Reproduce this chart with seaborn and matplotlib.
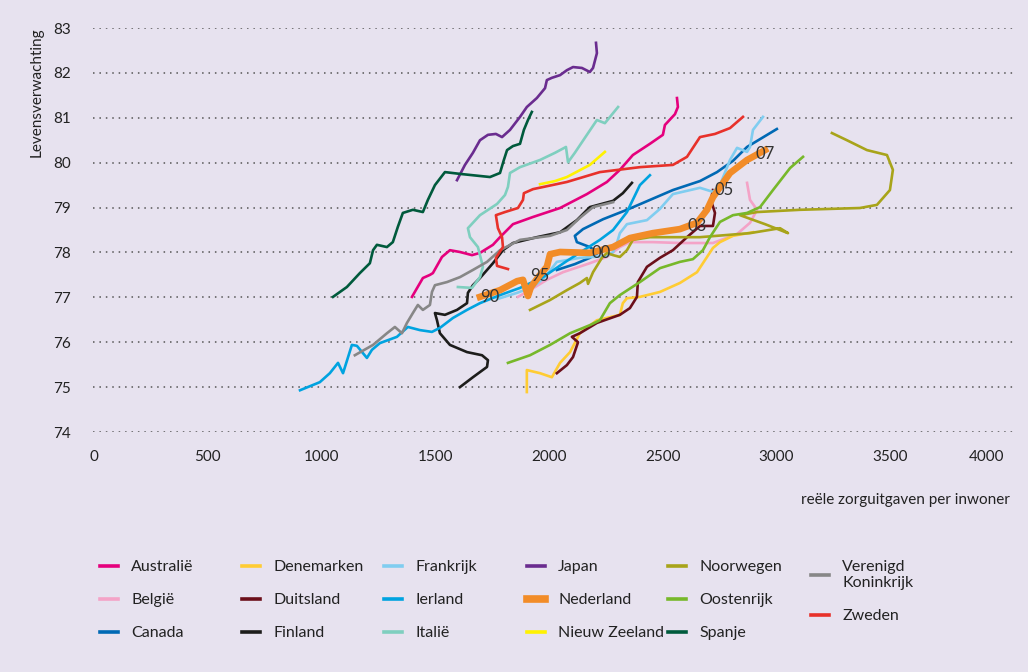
import numpy as np
import pandas as pd
import matplotlib
matplotlib.use("Agg")
import matplotlib.pyplot as plt
from matplotlib.lines import Line2D
import seaborn as sns

# reele zorguitgaven per inwoner (x) tegen levensverwachting (y), 1990-2007
australie_x = [1398, 1446, 1477, 1490, 1530, 1565, 1609, 1662, 1697, 1754, 1785, 1842, 1930, 2049, 2167, 2255, 2312, 2369, 2444, 2501, 2510, 2554, 2567, 2563]
australie_y = [77.01, 77.43, 77.50, 77.54, 77.90, 78.05, 78.01, 77.94, 77.99, 78.17, 78.34, 78.63, 78.79, 78.99, 79.30, 79.57, 79.84, 80.17, 80.42, 80.62, 80.84, 81.08, 81.24, 81.44]

belgie_x = [1864, 1917, 1991, 2062, 2180, 2255, 2312, 2356, 2457, 2576, 2721, 2827, 2884, 2915, 2884, 2871]
belgie_y = [77.01, 77.16, 77.39, 77.56, 77.76, 77.90, 78.12, 78.23, 78.23, 78.21, 78.21, 78.41, 78.66, 78.95, 79.17, 79.55]

canada_x = [2035, 2114, 2180, 2216, 2180, 2123, 2114, 2150, 2238, 2343, 2444, 2545, 2664, 2739, 2809, 2871, 3002]
canada_y = [77.61, 77.74, 77.88, 77.99, 78.12, 78.23, 78.37, 78.52, 78.74, 78.95, 79.17, 79.39, 79.59, 79.79, 80.04, 80.35, 80.75]

denemarken_x = [1903, 1903, 1961, 2013, 2049, 2093, 2136, 2211, 2312, 2325, 2343, 2400, 2488, 2576, 2651, 2721, 2752, 2809, 2897]
denemarken_y = [74.89, 75.38, 75.31, 75.22, 75.54, 75.78, 76.20, 76.49, 76.61, 76.87, 76.98, 77.01, 77.12, 77.32, 77.56, 78.10, 78.23, 78.37, 78.45]

duitsland_x = [2035, 2079, 2106, 2128, 2101, 2136, 2211, 2312, 2356, 2387, 2391, 2431, 2488, 2545, 2607, 2664, 2721, 2730, 2712, 2721]
duitsland_y = [75.31, 75.49, 75.67, 76.00, 76.12, 76.20, 76.43, 76.61, 76.76, 77.01, 77.34, 77.68, 77.88, 78.05, 78.34, 78.59, 78.59, 78.88, 79.17, 79.39]

finland_x = [1609, 1666, 1728, 1732, 1706, 1640, 1565, 1521, 1508, 1499, 1543, 1596, 1640, 1644, 1666, 1697, 1754, 1798, 1842, 1947, 2049, 2123, 2180, 2282, 2325, 2365]
finland_y = [75.00, 75.22, 75.45, 75.60, 75.71, 75.78, 75.94, 76.20, 76.49, 76.65, 76.61, 76.72, 76.87, 77.10, 77.27, 77.43, 77.76, 78.05, 78.21, 78.34, 78.45, 78.72, 79.01, 79.15, 79.32, 79.55]

frankrijk_x = [1772, 1860, 1930, 1983, 2035, 2136, 2255, 2282, 2299, 2312, 2343, 2431, 2488, 2545, 2664, 2721, 2752, 2796, 2827, 2871, 2884, 2897, 2941]
frankrijk_y = [76.96, 77.10, 77.23, 77.45, 77.79, 77.88, 77.92, 78.01, 78.21, 78.43, 78.63, 78.72, 78.97, 79.30, 79.44, 79.35, 79.50, 80.06, 80.33, 80.24, 80.35, 80.73, 81.02]

ierland_x = [906, 993, 1037, 1073, 1095, 1134, 1156, 1200, 1222, 1257, 1332, 1380, 1433, 1486, 1521, 1578, 1640, 1697, 1785, 1873, 1974, 2079, 2224, 2282, 2343, 2400, 2444]
ierland_y = [74.93, 75.11, 75.31, 75.54, 75.31, 75.94, 75.92, 75.65, 75.83, 75.98, 76.12, 76.34, 76.27, 76.23, 76.32, 76.54, 76.72, 76.87, 77.05, 77.21, 77.45, 77.81, 78.28, 78.50, 78.90, 79.50, 79.72]

italie_x = [1600, 1662, 1697, 1710, 1688, 1653, 1644, 1697, 1772, 1807, 1820, 1829, 1873, 1961, 2027, 2075, 2084, 2114, 2167, 2211, 2246, 2304]
italie_y = [77.23, 77.21, 77.45, 77.68, 78.12, 78.34, 78.54, 78.83, 79.08, 79.28, 79.46, 79.77, 79.90, 80.06, 80.22, 80.35, 80.01, 80.22, 80.62, 80.95, 80.88, 81.24]

japan_x = [1596, 1631, 1666, 1697, 1732, 1767, 1794, 1829, 1873, 1903, 1947, 1983, 1991, 2013, 2049, 2079, 2106, 2145, 2180, 2194, 2211, 2207]
japan_y = [79.61, 79.95, 80.22, 80.50, 80.62, 80.64, 80.57, 80.73, 81.02, 81.24, 81.44, 81.66, 81.84, 81.89, 81.95, 82.06, 82.13, 82.11, 82.02, 82.11, 82.44, 82.67]

nederland_x = [1697, 1785, 1860, 1886, 1908, 1921, 1961, 1991, 2005, 2049, 2180, 2282, 2356, 2457, 2576, 2651, 2695, 2721, 2796, 2871, 2950]
nederland_y = [77.01, 77.16, 77.36, 77.39, 77.03, 77.23, 77.50, 77.68, 77.96, 78.01, 77.99, 78.12, 78.32, 78.43, 78.52, 78.66, 78.95, 79.23, 79.77, 80.06, 80.28]
nederland_jaren = ["90", "95", "00", "03", "05", "07"]
nederland_jaar_idx = [0, 6, 10, 15, 17, 20]

nieuwzeeland_x = [1961, 2027, 2079, 2180, 2246]
nieuwzeeland_y = [79.52, 79.59, 79.68, 79.95, 80.24]

noorwegen_x = [1917, 2005, 2079, 2136, 2167, 2172, 2194, 2233, 2255, 2282, 2312, 2343, 2369, 2444, 2664, 2884, 3016, 3051, 2950, 2840, 2915, 3104, 3367, 3442, 3499, 3512, 3486, 3398, 3310, 3244]
noorwegen_y = [76.72, 76.94, 77.16, 77.32, 77.43, 77.30, 77.56, 77.88, 77.99, 77.94, 77.90, 78.05, 78.28, 78.34, 78.34, 78.43, 78.54, 78.43, 78.63, 78.83, 78.90, 78.95, 78.99, 79.06, 79.39, 79.84, 80.17, 80.28, 80.50, 80.66]

oostenrijk_x = [1820, 1917, 2005, 2093, 2180, 2224, 2268, 2312, 2400, 2488, 2576, 2633, 2677, 2708, 2752, 2809, 2871, 2928, 2985, 3060, 3117]
oostenrijk_y = [75.54, 75.71, 75.94, 76.20, 76.38, 76.49, 76.87, 77.05, 77.34, 77.65, 77.79, 77.85, 78.05, 78.34, 78.68, 78.83, 78.88, 79.01, 79.39, 79.88, 80.13]

spanje_x = [1051, 1112, 1169, 1213, 1227, 1244, 1288, 1314, 1336, 1358, 1402, 1446, 1468, 1499, 1543, 1609, 1741, 1785, 1802, 1816, 1842, 1873, 1890, 1908, 1925]
spanje_y = [77.01, 77.23, 77.54, 77.76, 78.05, 78.17, 78.12, 78.23, 78.57, 78.88, 78.95, 78.90, 79.17, 79.50, 79.79, 79.75, 79.68, 79.77, 80.06, 80.28, 80.37, 80.42, 80.73, 80.95, 81.13]

vk_x = [1147, 1227, 1288, 1323, 1354, 1376, 1402, 1424, 1446, 1477, 1486, 1499, 1552, 1609, 1666, 1728, 1785, 1873, 2005, 2079, 2136, 2194, 2282]
vk_y = [75.71, 75.94, 76.20, 76.34, 76.20, 76.43, 76.65, 76.83, 76.72, 76.83, 77.12, 77.27, 77.34, 77.45, 77.61, 77.79, 78.05, 78.28, 78.37, 78.50, 78.77, 79.01, 79.12]

zweden_x = [1820, 1772, 1767, 1798, 1794, 1776, 1767, 1807, 1864, 1886, 1890, 1930, 2079, 2224, 2400, 2545, 2607, 2664, 2730, 2796, 2853]
zweden_y = [77.63, 77.70, 77.88, 78.12, 78.34, 78.54, 78.83, 78.90, 78.99, 79.17, 79.32, 79.41, 79.57, 79.79, 79.90, 79.95, 80.13, 80.57, 80.64, 80.77, 81.02]

landen = ["Australië", "België", "Canada", "Denemarken", "Duitsland", "Finland",
          "Frankrijk", "Ierland", "Italië", "Japan", "Nederland", "Nieuw Zeeland",
          "Noorwegen", "Oostenrijk", "Spanje", "Verenigd\nKoninkrijk", "Zweden"]
kleuren = ["#e5007d", "#f4a3c7", "#0069b4", "#ffcc33", "#6b0f1a", "#1d1d1b",
           "#80cdf0", "#00a3e0", "#7fcfbf", "#6a2c8f", "#f28c28", "#fff200",
           "#a8a41a", "#77b82a", "#005a3c", "#878787", "#e8312a"]
xs = [australie_x, belgie_x, canada_x, denemarken_x, duitsland_x, finland_x,
      frankrijk_x, ierland_x, italie_x, japan_x, nederland_x, nieuwzeeland_x,
      noorwegen_x, oostenrijk_x, spanje_x, vk_x, zweden_x]
ys = [australie_y, belgie_y, canada_y, denemarken_y, duitsland_y, finland_y,
      frankrijk_y, ierland_y, italie_y, japan_y, nederland_y, nieuwzeeland_y,
      noorwegen_y, oostenrijk_y, spanje_y, vk_y, zweden_y]

rows = []
for land, x, y in zip(landen, xs, ys):
    for i in range(len(x)):
        rows.append((land, i, x[i], y[i]))
df = pd.DataFrame(rows, columns=["land", "stap", "uitgaven", "levensverwachting"])

bg = "#e7e2ef"
plt.rcParams["font.family"] = ["Lato", "DejaVu Sans"]
plt.rcParams["text.color"] = "#222222"

fig = plt.figure(figsize=(10.28, 6.72), dpi=100, facecolor=bg)
ax = fig.add_axes([93 / 1028, 1 - 432 / 672, 920 / 1028, 404 / 672])
ax.set_facecolor(bg)

for land, kleur in zip(landen, kleuren):
    sub = df[df["land"] == land]
    dik = land == "Nederland"
    sns.lineplot(data=sub, x="uitgaven", y="levensverwachting", sort=False,
                 estimator=None, color=kleur, linewidth=4.8 if dik else 1.9,
                 zorder=4 if dik else 3, ax=ax, legend=False,
                 solid_joinstyle="round")

# jaartallen langs de lijn van Nederland
offsets = [(7, 0), (0, -1), (8, 0), (0, -2), (8, 5), (0, -3)]
for lab, idx, off in zip(nederland_jaren, nederland_jaar_idx, offsets):
    ax.annotate(lab, xy=(nederland_x[idx], nederland_y[idx]), xytext=off,
                textcoords="offset points", ha="center", va="center",
                fontsize=12, color="#333333", zorder=6)

ax.set_xlim(-4, 4040)
ax.set_ylim(74, 83)
ax.set_xticks(range(0, 4001, 500))
ax.set_yticks(range(74, 84))
ax.tick_params(length=0, labelsize=11, colors="#222222")
ax.tick_params(axis="y", pad=16)
ax.tick_params(axis="x", pad=13)
ax.get_xticklabels()[-1].set_horizontalalignment("right")
ax.grid(axis="y", linestyle=(0, (1, 3.2)), color="#555555", linewidth=1.1)
ax.grid(axis="x", visible=False)
ax.set_axisbelow(True)
for s in ax.spines.values():
    s.set_visible(False)
ax.set_xlabel("")
ax.set_ylabel("")

fig.text(37 / 1028, 1 - 27 / 672, "Levensverwachting", rotation=90,
         ha="center", va="top", fontsize=11)
fig.text(1010 / 1028, 1 - 500 / 672, "reële zorguitgaven per inwoner",
         ha="right", va="center", fontsize=11)

# legenda in zes kolommen
kol_x = [100, 242, 384, 527, 668, 811]
for k in range(6):
    idxs = list(range(3 * k, min(3 * k + 3, len(landen))))
    handles = [Line2D([0], [0], color=kleuren[i],
                      linewidth=5.5 if landen[i] == "Nederland" else 2.6)
               for i in idxs]
    fig.legend(handles, [landen[i] for i in idxs], loc="upper left",
               bbox_to_anchor=(kol_x[k] / 1028, 1 - 560 / 672),
               frameon=False, borderpad=0, borderaxespad=0,
               handlelength=1.15, handletextpad=0.8, labelspacing=1.18,
               fontsize=11.5)

fig.savefig("out.png", dpi=100, facecolor=bg)
